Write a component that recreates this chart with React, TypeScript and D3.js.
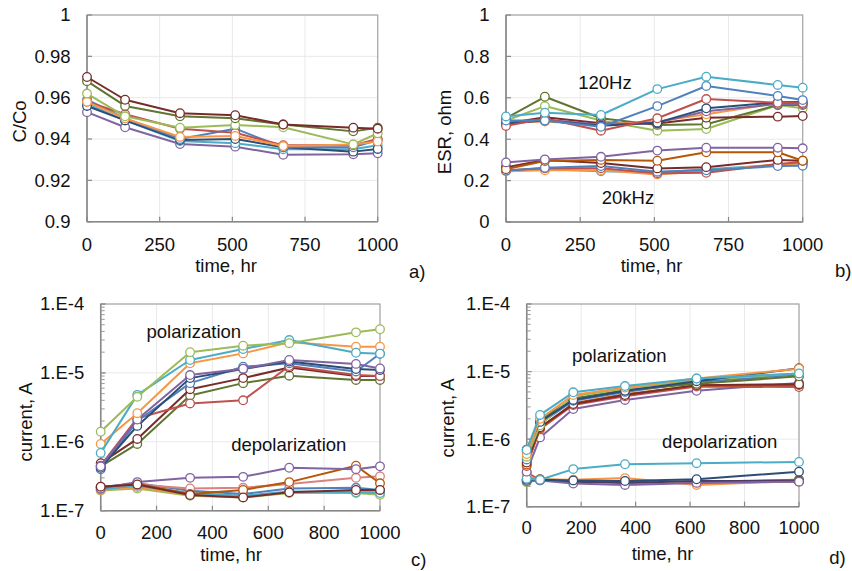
import React from 'react';
import * as d3 from 'd3';

// ---------- colours ----------
const COL = {
  blue: '#4F81BD', red: '#C0504D', green: '#9BBB59', purple: '#8064A2', cyan: '#4BACC6', orange: '#F79646',
  darkBlue: '#2C4D75', darkRed: '#772C2A', darkGreen: '#5F7530', darkPurple: '#4D3B62', darkOrange: '#B65708', pink: '#D9827F',
};

// ---------- panel a: C/Co ----------
const timeAB = [0, 131, 320, 510, 675, 916, 1000];
const capDarkRed = [0.970, 0.959, 0.9525, 0.9515, 0.947, 0.9455, 0.945];
const capDarkGreen = [0.968, 0.956, 0.951, 0.950, 0.947, 0.9437, 0.9455];
const capGreen = [0.962, 0.951, 0.9455, 0.9468, 0.9457, 0.9374, 0.9428];
const capRed = [0.958, 0.952, 0.945, 0.943, 0.937, 0.937, 0.940];
const capBlue = [0.959, 0.950, 0.940, 0.945, 0.936, 0.936, 0.9395];
const capOrange = [0.958, 0.950, 0.941, 0.9415, 0.9366, 0.9374, 0.9388];
const capCyan = [0.957, 0.949, 0.939, 0.938, 0.935, 0.935, 0.937];
const capDarkBlue = [0.956, 0.949, 0.9395, 0.940, 0.936, 0.9339, 0.9352];
const capPurple = [0.953, 0.9457, 0.9376, 0.9363, 0.9324, 0.9326, 0.9331];

// ---------- panel b: ESR ----------
const esr120Cyan = [0.51, 0.528, 0.517, 0.642, 0.702, 0.662, 0.649];
const esr120Blue = [0.49, 0.49, 0.46, 0.56, 0.657, 0.609, 0.589];
const esr120Red = [0.464, 0.50, 0.441, 0.501, 0.594, 0.576, 0.575];
const esr120DarkBlue = [0.475, 0.49, 0.465, 0.48, 0.549, 0.578, 0.58];
const esr120Purple = [0.48, 0.495, 0.47, 0.48, 0.535, 0.57, 0.57];
const esr120Orange = [0.48, 0.485, 0.47, 0.485, 0.52, 0.575, 0.57];
const esr120DarkRed = [0.475, 0.506, 0.477, 0.476, 0.504, 0.509, 0.512];
const esr120DarkGreen = [0.501, 0.605, 0.501, 0.469, 0.472, 0.565, 0.565];
const esr120Green = [0.49, 0.560, 0.49, 0.441, 0.449, 0.565, 0.55];

const esr20kPurple = [0.288, 0.302, 0.315, 0.345, 0.359, 0.359, 0.356];
const esr20kDarkOrange = [0.255, 0.295, 0.30, 0.296, 0.337, 0.337, 0.296];
const esr20kDarkRed = [0.264, 0.30, 0.285, 0.259, 0.265, 0.30, 0.296];
const esr20kRed = [0.25, 0.26, 0.26, 0.235, 0.238, 0.28, 0.29];
const esr20kBlue = [0.248, 0.262, 0.27, 0.243, 0.25, 0.27, 0.272];
const esr20kOrange = [0.245, 0.25, 0.25, 0.23, 0.245, 0.28, 0.28];
const esr20kCyan = [0.25, 0.255, 0.245, 0.24, 0.255, 0.275, 0.28];

// ---------- panel c: current ----------
const timeC = [0, 131, 320, 510, 675, 914, 1000];
const polCGreen = [1.4e-6, 4.5e-6, 2.0e-5, 2.48e-5, 2.7e-5, 3.88e-5, 4.3e-5];
const polCCyan = [6.9e-7, 4.8e-6, 1.54e-5, 2.22e-5, 3.0e-5, 1.96e-5, 1.9e-5];
const polCOrange = [9.3e-7, 2.6e-6, 1.38e-5, 1.92e-5, 2.78e-5, 2.4e-5, 2.4e-5];
const polCPurple = [4.4e-7, 2.1e-6, 9.3e-6, 1.15e-5, 1.54e-5, 1.35e-5, 1.16e-5];
const polCDarkBlue = [4.2e-7, 1.7e-6, 8.4e-6, 1.14e-5, 1.46e-5, 1.14e-5, 1.1e-5];
const polCBlue = [4.0e-7, 2.0e-6, 7.1e-6, 1.23e-5, 1.38e-5, 1.05e-5, 1.9e-5];
const polCRed = [4.5e-7, 2.2e-6, 3.6e-6, 4.0e-6, 1.26e-5, 9.3e-6, 9.0e-6];
const polCDarkRed = [4.9e-7, 1.1e-6, 5.8e-6, 8.4e-6, 1.2e-5, 9.0e-6, 9.0e-6];
const polCDarkGreen = [4.4e-7, 9.3e-7, 4.7e-6, 7.1e-6, 9.1e-6, 7.9e-6, 7.9e-6];

const depCPurple = [2.1e-7, 2.6e-7, 3.0e-7, 3.1e-7, 4.2e-7, 4.0e-7, 4.4e-7];
const depCDarkOrange = [2.2e-7, 2.45e-7, 1.75e-7, 2.0e-7, 2.6e-7, 4.5e-7, 2.5e-7];
const depCPink = [2.2e-7, 2.4e-7, 2.1e-7, 2.15e-7, 2.45e-7, 3.0e-7, 3.15e-7];
const depCBlue = [2.2e-7, 2.5e-7, 1.95e-7, 1.75e-7, 2.1e-7, 2.15e-7, 2.0e-7];
const depCGreen = [1.97e-7, 2.1e-7, 1.65e-7, 1.55e-7, 1.8e-7, 1.8e-7, 1.7e-7];
const depCOrange = [2.0e-7, 2.2e-7, 1.7e-7, 1.6e-7, 1.85e-7, 1.9e-7, 1.85e-7];
const depCCyan = [2.05e-7, 2.3e-7, 1.8e-7, 1.65e-7, 1.9e-7, 1.85e-7, 1.8e-7];
const depCDarkRed = [2.23e-7, 2.4e-7, 1.69e-7, 1.56e-7, 1.85e-7, 2.0e-7, 2.0e-7];

// ---------- panel d: current ----------
const timeD = [0, 49, 171, 361, 624, 1000];
const polDCyan = [6.9e-7, 2.28e-6, 4.93e-6, 6.1e-6, 7.9e-6, 9.4e-6];
const polDOrange = [6.0e-7, 2.0e-6, 4.5e-6, 5.8e-6, 7.9e-6, 1.1e-5];
const polDDarkBlue = [7.0e-7, 1.8e-6, 3.8e-6, 5.2e-6, 7.2e-6, 1.12e-5];
const polDGreen = [5.5e-7, 1.6e-6, 4.3e-6, 5.6e-6, 7.5e-6, 9.4e-6];
const polDBlue = [5.0e-7, 1.7e-6, 3.7e-6, 5.0e-6, 7.0e-6, 9.0e-6];
const polDDarkGreen = [6.5e-7, 1.9e-6, 4.0e-6, 5.3e-6, 6.6e-6, 8.5e-6];
const polDRed = [4.0e-7, 1.4e-6, 3.2e-6, 4.3e-6, 6.0e-6, 5.9e-6];
const polDDarkRed = [4.5e-7, 1.5e-6, 3.3e-6, 4.5e-6, 6.3e-6, 6.5e-6];
const polDDarkOrange = [4.2e-7, 1.45e-6, 3.4e-6, 4.6e-6, 6.2e-6, 6.3e-6];
const polDPurple = [3.3e-7, 1.06e-6, 2.79e-6, 3.8e-6, 5.2e-6, 6.8e-6];

const depDCyan = [2.6e-7, 2.5e-7, 3.6e-7, 4.25e-7, 4.4e-7, 4.6e-7];
const depDDarkBlue = [2.5e-7, 2.5e-7, 2.45e-7, 2.4e-7, 2.55e-7, 3.3e-7];
const depDOrange = [2.8e-7, 2.55e-7, 2.5e-7, 2.65e-7, 2.1e-7, 2.4e-7];
const depDGreen = [2.3e-7, 2.5e-7, 2.4e-7, 2.3e-7, 2.3e-7, 2.5e-7];
const depDDarkGreen = [2.4e-7, 2.55e-7, 2.45e-7, 2.35e-7, 2.35e-7, 2.5e-7];
const depDRed = [3.2e-7, 2.5e-7, 2.4e-7, 2.3e-7, 2.25e-7, 2.35e-7];
const depDDarkPurple = [2.5e-7, 2.5e-7, 2.35e-7, 2.25e-7, 2.4e-7, 2.4e-7];
const depDPurple = [2.4e-7, 2.45e-7, 2.2e-7, 2.1e-7, 2.25e-7, 2.35e-7];

// ---------- ticks ----------
const xTicksAB = [0, 250, 500, 750, 1000];
const xTicksCD = [0, 200, 400, 600, 800, 1000];
const yTicksA = [0.9, 0.92, 0.94, 0.96, 0.98, 1];
const yTicksALabels = ['0.9', '0.92', '0.94', '0.96', '0.98', '1'];
const yTicksB = [0, 0.2, 0.4, 0.6, 0.8, 1];
const yTicksBLabels = ['0', '0.2', '0.4', '0.6', '0.8', '1'];
const yTicksLog = [1e-7, 1e-6, 1e-5, 1e-4];
const yTicksLogLabels = ['1.E-7', '1.E-6', '1.E-5', '1.E-4'];

type Series = { color: string; values: number[] };

const FONT = '"Liberation Sans", Arial, Helvetica, sans-serif';
const FS = 18.5;

interface PanelProps {
  x0: number; y0: number; x1: number; y1: number;
  xTicks: number[];
  log: boolean;
  yDomain: [number, number];
  yTicks: number[];
  yLabels: string[];
  xs: number[];
  series: Series[];
  xLabelDy: number;
}

function Panel(p: PanelProps) {
  const x = d3.scaleLinear().domain([0, 1000]).range([p.x0, p.x1]);
  const y = p.log
    ? d3.scaleLog().domain(p.yDomain).range([p.y1, p.y0])
    : d3.scaleLinear().domain(p.yDomain).range([p.y1, p.y0]);
  const line = d3.line<number>().x((_, i) => x(p.xs[i])).y((v) => y(v));
  const minor = p.log ? (y as d3.ScaleLogarithmic<number, number>).ticks() : [];
  return (
    <g>
      {p.xTicks.map((t) => (
        <line key={'gx' + t} x1={x(t)} x2={x(t)} y1={p.y0} y2={p.y1} stroke="#e9e9e9" strokeWidth={1} />
      ))}
      {p.yTicks.map((t) => (
        <line key={'gy' + t} x1={p.x0} x2={p.x1} y1={y(t)} y2={y(t)} stroke="#e9e9e9" strokeWidth={1} />
      ))}
      <rect x={p.x0} y={p.y0} width={p.x1 - p.x0} height={p.y1 - p.y0} fill="none" stroke="#a6a6a6" strokeWidth={1.2} />
      <line x1={p.x0} x2={p.x0} y1={p.y0} y2={p.y1} stroke="#888" strokeWidth={1.5} />
      <line x1={p.x0} x2={p.x1} y1={p.y1} y2={p.y1} stroke="#888" strokeWidth={1.5} />
      {p.xTicks.map((t) => (
        <line key={'tx' + t} x1={x(t)} x2={x(t)} y1={p.y1} y2={p.y1 - 5} stroke="#888" strokeWidth={1.2} />
      ))}
      {p.yTicks.map((t) => (
        <line key={'ty' + t} x1={p.x0} x2={p.x0 + 5} y1={y(t)} y2={y(t)} stroke="#888" strokeWidth={1.2} />
      ))}
      {minor.map((t, i) => (
        <line key={'tm' + i} x1={p.x0} x2={p.x0 + 4} y1={y(t)} y2={y(t)} stroke="#999" strokeWidth={1} />
      ))}
      {p.xTicks.map((t) => (
        <text key={'lx' + t} x={x(t)} y={p.y1 + p.xLabelDy} textAnchor="middle" fontSize={FS} fontFamily={FONT} fill="#111">
          {String(t)}
        </text>
      ))}
      {p.yTicks.map((t, i) => (
        <text key={'ly' + t} x={p.x0 - 16.5} y={y(t)} dy="0.35em" textAnchor="end" fontSize={FS} fontFamily={FONT} fill="#111">
          {p.yLabels[i]}
        </text>
      ))}
      {p.series.map((s, si) => (
        <g key={'s' + si}>
          <path d={line(s.values) || ''} fill="none" stroke={s.color} strokeWidth={2} strokeLinejoin="round" />
          {s.values.map((v, i) => (
            <circle key={i} cx={x(p.xs[i])} cy={y(v)} r={4.3} fill="#fff" stroke={s.color} strokeWidth={1.3} />
          ))}
        </g>
      ))}
    </g>
  );
}

const seriesA: Series[] = [
  { color: COL.purple, values: capPurple },
  { color: COL.cyan, values: capCyan },
  { color: COL.darkBlue, values: capDarkBlue },
  { color: COL.blue, values: capBlue },
  { color: COL.red, values: capRed },
  { color: COL.orange, values: capOrange },
  { color: COL.green, values: capGreen },
  { color: COL.darkGreen, values: capDarkGreen },
  { color: COL.darkRed, values: capDarkRed },
];

const seriesB: Series[] = [
  { color: COL.cyan, values: esr20kCyan },
  { color: COL.orange, values: esr20kOrange },
  { color: COL.red, values: esr20kRed },
  { color: COL.blue, values: esr20kBlue },
  { color: COL.darkRed, values: esr20kDarkRed },
  { color: COL.darkOrange, values: esr20kDarkOrange },
  { color: COL.purple, values: esr20kPurple },
  { color: COL.green, values: esr120Green },
  { color: COL.darkGreen, values: esr120DarkGreen },
  { color: COL.darkRed, values: esr120DarkRed },
  { color: COL.orange, values: esr120Orange },
  { color: COL.purple, values: esr120Purple },
  { color: COL.darkBlue, values: esr120DarkBlue },
  { color: COL.red, values: esr120Red },
  { color: COL.blue, values: esr120Blue },
  { color: COL.cyan, values: esr120Cyan },
];

const seriesC: Series[] = [
  { color: COL.green, values: depCGreen },
  { color: COL.orange, values: depCOrange },
  { color: COL.cyan, values: depCCyan },
  { color: COL.blue, values: depCBlue },
  { color: COL.pink, values: depCPink },
  { color: COL.darkOrange, values: depCDarkOrange },
  { color: COL.purple, values: depCPurple },
  { color: COL.darkRed, values: depCDarkRed },
  { color: COL.darkGreen, values: polCDarkGreen },
  { color: COL.darkRed, values: polCDarkRed },
  { color: COL.red, values: polCRed },
  { color: COL.blue, values: polCBlue },
  { color: COL.darkBlue, values: polCDarkBlue },
  { color: COL.purple, values: polCPurple },
  { color: COL.orange, values: polCOrange },
  { color: COL.cyan, values: polCCyan },
  { color: COL.green, values: polCGreen },
];

const seriesD: Series[] = [
  { color: COL.green, values: depDGreen },
  { color: COL.darkGreen, values: depDDarkGreen },
  { color: COL.red, values: depDRed },
  { color: COL.orange, values: depDOrange },
  { color: COL.darkPurple, values: depDDarkPurple },
  { color: COL.purple, values: depDPurple },
  { color: COL.darkBlue, values: depDDarkBlue },
  { color: COL.cyan, values: depDCyan },
  { color: COL.purple, values: polDPurple },
  { color: COL.red, values: polDRed },
  { color: COL.darkOrange, values: polDDarkOrange },
  { color: COL.darkRed, values: polDDarkRed },
  { color: COL.blue, values: polDBlue },
  { color: COL.darkGreen, values: polDDarkGreen },
  { color: COL.green, values: polDGreen },
  { color: COL.darkBlue, values: polDDarkBlue },
  { color: COL.orange, values: polDOrange },
  { color: COL.cyan, values: polDCyan },
];

function T(props: { x: number; y: number; children: string; anchor?: string; rotate?: boolean }) {
  return (
    <text
      x={props.rotate ? 0 : props.x}
      y={props.rotate ? 0 : props.y}
      transform={props.rotate ? `translate(${props.x},${props.y}) rotate(-90)` : undefined}
      textAnchor={props.anchor || 'middle'}
      fontSize={FS}
      fontFamily={FONT}
      fill="#111"
    >
      {props.children}
    </text>
  );
}

export default function App() {
  return (
    <svg width={852} height={571} style={{ position: 'absolute', left: 0, top: 0, background: '#fff' }}>
      <rect width={852} height={571} fill="#fff" />
      <Panel x0={87} y0={15} x1={377.7} y1={221.7} xTicks={xTicksAB} log={false} yDomain={[0.9, 1]}
        yTicks={yTicksA} yLabels={yTicksALabels} xs={timeAB} series={seriesA} xLabelDy={29} />
      <Panel x0={506} y0={15} x1={802.7} y1={222} xTicks={xTicksAB} log={false} yDomain={[0, 1]}
        yTicks={yTicksB} yLabels={yTicksBLabels} xs={timeAB} series={seriesB} xLabelDy={28.7} />
      <Panel x0={100.7} y0={304} x1={380} y1={510.7} xTicks={xTicksCD} log={true} yDomain={[1e-7, 1e-4]}
        yTicks={yTicksLog} yLabels={yTicksLogLabels} xs={timeC} series={seriesC} xLabelDy={28.3} />
      <Panel x0={526.7} y0={304} x1={799} y1={506.7} xTicks={xTicksCD} log={true} yDomain={[1e-7, 1e-4]}
        yTicks={yTicksLog} yLabels={yTicksLogLabels} xs={timeD} series={seriesD} xLabelDy={27.3} />

      <T x={226} y={272}>time, hr</T>
      <T x={651.5} y={272}>time, hr</T>
      <T x={231} y={560.5}>time, hr</T>
      <T x={662.5} y={559.5}>time, hr</T>
      <T x={26} y={121.5} rotate>C/Co</T>
      <T x={451} y={132} rotate>ESR, ohm</T>
      <T x={32} y={422} rotate>current, A</T>
      <T x={453.5} y={418} rotate>current, A</T>

      <T x={605} y={89.3}>120Hz</T>
      <T x={628} y={204}>20kHz</T>
      <T x={193.8} y={338.3}>polarization</T>
      <T x={288.8} y={451}>depolarization</T>
      <T x={619.3} y={362.3}>polarization</T>
      <T x={719.7} y={448.3}>depolarization</T>

      <T x={409} y={278} anchor="start">a)</T>
      <T x={835} y={277} anchor="start">b)</T>
      <T x={411} y={565.5} anchor="start">c)</T>
      <T x={829.3} y={564} anchor="start">d)</T>
    </svg>
  );
}
